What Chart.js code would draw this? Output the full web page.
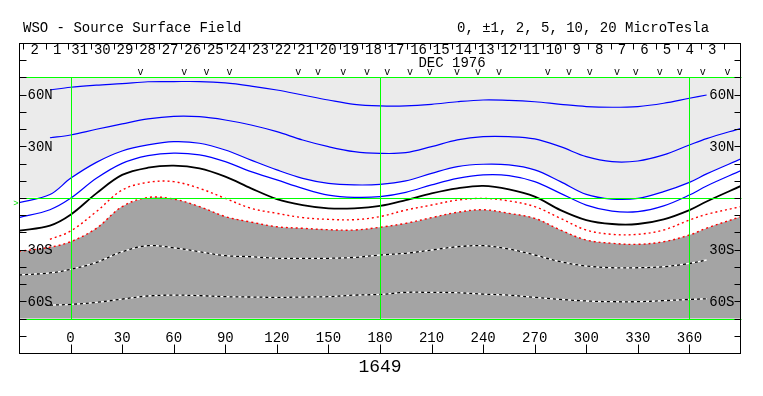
<!DOCTYPE html>
<html>
<head>
<meta charset="utf-8">
<script src="https://cdn.jsdelivr.net/npm/chart.js@4/dist/chart.umd.min.js"></script>
<style>
  html, body { margin: 0; padding: 0; background: #fff; }
  canvas { display: block; }
</style>
</head>
<body>
<canvas id="map" width="763" height="396"></canvas>
<script>
// Carrington longitude of each sample point
const lons = [-30, -12, 0, 15, 30, 45, 60, 75, 90, 105, 120, 135, 150, 165, 180,
  195, 210, 225, 240, 255, 270, 285, 300, 315, 330, 345, 360, 370, 390]

// contour latitudes (deg) per level, microTesla
const p10  = [null, 62.7, 64.3, 65.5, 66.4, 67.5, 67.6, 67.6, 66.8, 65.0, 62.7, 59.8, 56.9, 54.4, 53.5, 53.5, 54.4, 55.9, 56.9, 56.7, 55.9, 54.4, 53.1, 52.7, 53.1, 55.0, 57.9, 59.8, null]
const p5   = [null, 35.0, 36.6, 39.9, 43.0, 45.9, 47.4, 47.2, 45.3, 42.4, 38.5, 33.7, 29.8, 26.9, 25.9, 26.3, 29.8, 33.7, 35.6, 35.6, 34.3, 29.8, 24.0, 21.1, 21.5, 25.0, 30.8, 34.5, 40.5]
const p2   = [-2.7, 2.0, 11.4, 20.7, 27.3, 30.8, 32.7, 31.8, 27.9, 22.0, 16.3, 11.4, 8.5, 7.6, 7.9, 9.9, 14.3, 18.2, 19.6, 19.2, 16.3, 9.5, 2.1, -0.6, -0.2, 3.7, 9.1, 14.0, 22.7]
const p1   = [-11.4, -6.8, -0.2, 11.4, 20.1, 24.6, 26.1, 25.0, 21.1, 15.3, 10.5, 5.6, 1.7, 0.4, 0.8, 3.3, 7.6, 11.4, 13.4, 13.0, 9.5, 2.7, -4.1, -7.6, -7.9, -4.6, 1.7, 7.0, 15.9]
const zero = [-19.0, -16.0, -9.7, 2.7, 13.4, 17.6, 18.8, 17.2, 12.4, 5.6, -0.6, -4.1, -6.0, -6.0, -4.6, -1.2, 2.7, 5.6, 7.0, 5.0, 0.8, -7.0, -12.8, -15.1, -15.1, -12.4, -7.0, -2.0, 7.0]
const m1   = [null, -24.0, -19.2, -7.9, 4.6, 9.1, 9.5, 5.6, -0.2, -6.0, -8.9, -11.4, -12.4, -12.6, -10.8, -7.0, -4.1, -1.2, -0.2, -1.7, -5.0, -11.8, -18.6, -21.1, -21.1, -18.6, -12.8, -9.5, -5.0]
const m2   = [-31.0, -28.6, -25.4, -17.6, -5.0, 0.3, -0.6, -5.0, -10.8, -14.0, -16.7, -17.6, -18.4, -18.6, -17.0, -14.7, -11.4, -8.3, -6.8, -8.9, -11.8, -18.6, -24.4, -26.3, -26.9, -25.4, -21.5, -17.5, -10.8]
const m5   = [-44.7, -43.5, -41.4, -37.4, -31.2, -27.7, -28.9, -31.2, -33.5, -34.1, -35.0, -35.0, -35.0, -34.5, -33.1, -32.1, -30.2, -28.3, -27.7, -29.6, -33.1, -37.0, -39.5, -40.5, -40.5, -39.9, -38.0, -36.0, null]
const m10  = [null, -62.2, -61.8, -60.6, -58.7, -56.9, -56.4, -56.7, -57.3, -57.5, -57.7, -57.5, -57.3, -56.4, -56.0, -54.8, -54.8, -55.0, -55.8, -56.4, -57.7, -58.9, -59.8, -60.2, -60.2, -59.6, -58.9, -58.5, null]

// axis labels
const lonTicks = [0, 30, 60, 90, 120, 150, 180, 210, 240, 270, 300, 330, 360]
const latTicks = [60, 30, -30, -60]
const latNames = ['60N', '30N', '30S', '60S']
const days = [2, 1, 31, 30, 29, 28, 27, 26, 25, 24, 23, 22, 21, 20, 19, 18, 17, 16, 15, 14, 13, 12, 11, 10, 9, 8, 7, 6, 5, 4, 3]
const obsLons = [40.7, 66.2, 79, 92.4, 132.4, 144, 158.6, 172.5, 184.2, 197.5, 209, 224.8, 237, 249.2,
  277.6, 289.9, 302, 317.8, 328.8, 342.7, 354.4, 367.7, 382.2]

const FONT = '"Liberation Mono", "DejaVu Sans Mono", monospace'
const dayStart = -27.5, dayStep = 13.14

function pts(arr) {
  return lons.map((x, i) => arr[i] == null ? null : { x, y: arr[i] }).filter(p => p)
}

const lightEdge = p2.map(v => Math.max(v, 0))
const darkEdge = m2.map(v => Math.min(v, 0))

function line(data, color, width, dash, order) {
  return {
    data: pts(data), borderColor: color, borderWidth: width, borderDash: dash || [],
    pointRadius: 0, tension: 0.35, fill: false, order: order || 1,
  }
}

const overlay = {
  id: 'overlay',
  afterDatasetsDraw(chart) {
    const { ctx, scales: { x, y } } = chart
    const X = v => Math.round(x.getPixelForValue(v)) + 0.5
    const Y = v => Math.round(y.getPixelForValue(v)) + 0.5
    ctx.save()
    ctx.strokeStyle = '#00ff00'
    ctx.lineWidth = 1
    ctx.beginPath()
    ;[70, 0, -70].forEach(l => { ctx.moveTo(X(-30), Y(l)); ctx.lineTo(X(390), Y(l)) })
    ;[0, 180, 360].forEach(l => { ctx.moveTo(X(l), Y(70)); ctx.lineTo(X(l), Y(-70)) })
    ctx.stroke()
    ctx.restore()
  },
  afterDraw(chart) {
    const { ctx, chartArea: a, scales: { x, y } } = chart
    const X = v => x.getPixelForValue(v)
    const Y = v => y.getPixelForValue(v)
    const L = Math.round(a.left) + 0.5, R = Math.round(a.right) - 0.5
    const T = Math.round(a.top) + 0.5, B = Math.round(a.bottom) + 0.5
    ctx.save()
    ctx.strokeStyle = '#000'
    ctx.lineWidth = 1
    ctx.strokeRect(L, T, R - L, B - T)

    // latitude ticks every 10 deg on both sides
    ctx.beginPath()
    for (let l = -80; l <= 80; l += 10) {
      const py = Math.round(Y(l)) + 0.5
      ctx.moveTo(L, py); ctx.lineTo(L + 7, py)
      ctx.moveTo(R, py); ctx.lineTo(R - 6, py)
    }
    // day ticks at the top
    for (let i = 0; i <= days.length; i++) {
      const px = Math.round(X(dayStart + i * dayStep)) + 0.5
      ctx.moveTo(px, T); ctx.lineTo(px, T + 6)
    }
    // longitude ticks at the bottom
    lonTicks.forEach(l => {
      const px = Math.round(X(l)) + 0.5
      ctx.moveTo(px, B - 9); ctx.lineTo(px, B)
    })
    ctx.stroke()

    ctx.fillStyle = '#000'
    ctx.textBaseline = 'middle'
    ctx.font = '14px ' + FONT
    ctx.textAlign = 'center'
    days.forEach((d, i) => ctx.fillText(String(d), X(dayStart + (i + 0.5) * dayStep), 50))
    ctx.fillText('DEC 1976', 452, 63)
    lonTicks.forEach(l => ctx.fillText(String(l), X(l), 338))

    ctx.textAlign = 'left'
    latTicks.forEach((l, i) => ctx.fillText(latNames[i], L + 8, Y(l) + 1))
    ctx.textAlign = 'right'
    latTicks.forEach((l, i) => ctx.fillText(latNames[i], R - 6, Y(l) + 1))

    ctx.textAlign = 'left'
    ctx.fillText('WSO - Source Surface Field', 23, 28)
    ctx.fillText('0, \u00b11, 2, 5, 10, 20 MicroTesla', 457, 28)

    ctx.textAlign = 'center'
    ctx.font = '18px ' + FONT
    ctx.fillText('1649', 380, 367)

    ctx.font = '10px ' + FONT
    obsLons.forEach(l => ctx.fillText('v', X(l), 72))

    ctx.fillStyle = '#00dd00'
    ctx.font = '9px ' + FONT
    ctx.fillText('>', 16, Y(-3.5))
    ctx.restore()
  }
}

new Chart(document.getElementById('map'), {
  type: 'line',
  data: {
    datasets: [
      { data: pts(lightEdge), borderWidth: 0, borderColor: 'rgba(0,0,0,0)', backgroundColor: '#ebebeb',
        pointRadius: 0, tension: 0.35, fill: { value: 70 }, order: 5 },
      { data: pts(darkEdge), borderWidth: 0, borderColor: 'rgba(0,0,0,0)', backgroundColor: '#a4a4a4',
        pointRadius: 0, tension: 0.35, fill: { value: -70 }, order: 5 },
      line(m5, '#ffffff', 1.3, [], 3),
      line(m10, '#ffffff', 1.3, [], 3),
      line(m5, '#000000', 1.3, [3, 3]),
      line(m10, '#000000', 1.3, [3, 3]),
      line(m2, '#ff0000', 1.4, [2, 3]),
      line(m1, '#ff0000', 1.4, [2, 3]),
      line(zero, '#000000', 1.8),
      line(p1, '#0000ff', 1.2),
      line(p2, '#0000ff', 1.2),
      line(p5, '#0000ff', 1.2),
      line(p10, '#0000ff', 1.2),
    ]
  },
  options: {
    responsive: false,
    animation: false,
    devicePixelRatio: 1,
    layout: { padding: { left: 19, top: 43, right: 22, bottom: 43 } },
    scales: {
      x: { type: 'linear', min: -30, max: 390, display: false },
      y: { type: 'linear', min: -90, max: 90, display: false }
    },
    plugins: { legend: { display: false }, tooltip: { enabled: false } }
  },
  plugins: [overlay]
})
</script>
</body>
</html>
